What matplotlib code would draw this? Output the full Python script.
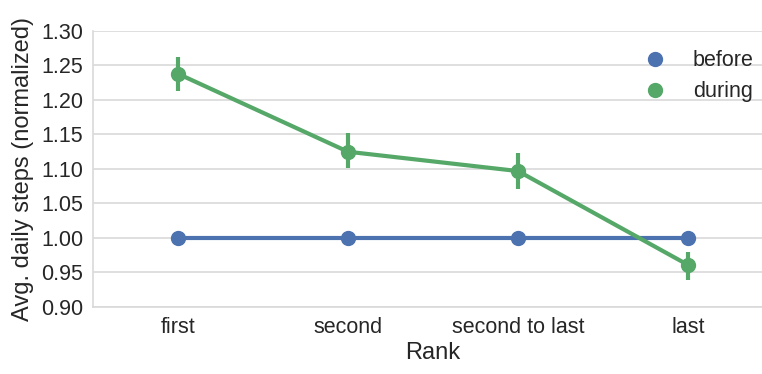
import numpy as np
import matplotlib.pyplot as plt

plt.rcParams['font.family'] = ['Liberation Sans', 'DejaVu Sans']

ranks = ["first", "second", "second to last", "last"]
before_mean = [1.0, 1.0, 1.0, 1.0]
during_mean = [1.238, 1.125, 1.097, 0.961]
during_lo = [1.213, 1.101, 1.071, 0.939]
during_hi = [1.262, 1.152, 1.123, 0.979]

blue = "#4C72B0"
green = "#55A868"
grid_c = "#d9d9d9"
txt_c = "#262626"

fig = plt.figure(figsize=(7.62, 3.74), dpi=100)
ax = fig.add_axes([93 / 762, 67 / 374, 680 / 762, 276 / 374])

x = np.arange(len(ranks))
ax.plot(x, before_mean, color=blue, lw=3, marker="o", ms=10, label="before", zorder=3)
ax.plot(x, during_mean, color=green, lw=3, marker="o", ms=10, label="during", zorder=4)
ax.vlines(x, during_lo, during_hi, color=green, lw=3, zorder=4)

ax.set_xlim(-0.5, 3.5)
ax.set_ylim(0.90, 1.30)
ax.set_yticks(np.arange(0.90, 1.301, 0.05))
ax.set_yticklabels([f"{v:.2f}" for v in np.arange(0.90, 1.301, 0.05)])
ax.set_xticks(x)
ax.set_xticklabels(ranks)
ax.tick_params(length=0, labelsize=15.5, colors=txt_c, pad=7)
ax.grid(axis="y", color=grid_c, lw=1.2)
ax.set_axisbelow(True)
for s in ax.spines.values():
    s.set_color(grid_c)
    s.set_linewidth(1.2)
ax.spines["top"].set_visible(False)
ax.spines["right"].set_visible(False)

ax.set_xlabel("Rank", fontsize=17, color=txt_c, labelpad=3)
ax.set_ylabel("Avg. daily steps (normalized)", fontsize=17, color=txt_c, labelpad=5)

leg = ax.legend(handles=[
    plt.Line2D([], [], color=blue, marker="o", ls="", ms=10),
    plt.Line2D([], [], color=green, marker="o", ls="", ms=10)],
    labels=["before", "during"], loc="upper right", bbox_to_anchor=(1.0, 1.0),
    frameon=False, fontsize=15.5, handletextpad=0.75, labelspacing=0.45)
for t in leg.get_texts():
    t.set_color(txt_c)

fig.savefig("out.png", dpi=100)
